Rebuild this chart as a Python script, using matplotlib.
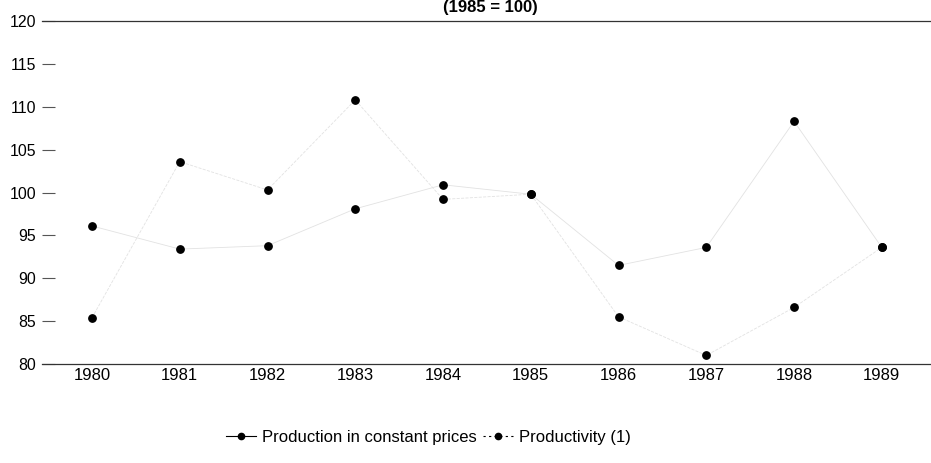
import matplotlib
matplotlib.use("Agg")
from matplotlib import pyplot as plt
from matplotlib.lines import Line2D

years = ["1980", "1981", "1982", "1983", "1984", "1985", "1986", "1987", "1988", "1989"]
production = [96.1, 93.4, 93.8, 98.1, 100.9, 99.8, 91.5, 93.6, 108.3, 93.6]
productivity = [85.4, 103.6, 100.3, 110.8, 99.2, 99.8, 85.5, 81.0, 86.6, 93.6]
yticks = [80, 85, 90, 95, 100, 105, 110, 115, 120]

plt.rcParams["font.family"] = ["Liberation Sans", "DejaVu Sans"]

fig = plt.figure(figsize=(9.31, 4.63), dpi=100)
ax = fig.add_axes([0.0451, 0.2138, 0.9539, 0.7408])

x = range(len(years))

# lines are barely visible in the scan
ax.plot(x, production, color="#e2e2e2", lw=0.6, zorder=1)
ax.plot(x, productivity, color="#e2e2e2", lw=0.6, ls="--", zorder=1)
ax.scatter(x, production, s=28, color="black", zorder=3)
ax.scatter(x, productivity, s=28, color="black", zorder=3)

ax.set_xlim(-0.57, 9.55)
ax.set_ylim(80, 120)
ax.set_xticks(list(x))
ax.set_xticklabels(years, fontsize=12)
ax.set_yticks(yticks)
ax.set_yticklabels([str(v) for v in yticks], fontsize=11.4)

ax.tick_params(axis="x", length=0, pad=3)
ax.tick_params(axis="y", direction="in", length=9.5, width=0.8,
               color="#555555", pad=4.3)

for side in ["left", "right"]:
    ax.spines[side].set_visible(False)
for side in ["top", "bottom"]:
    ax.spines[side].set_linewidth(0.9)
    ax.spines[side].set_color("#333333")

# title sits at the very top edge
fig.text(0.527, 0.999, "(1985 = 100)", ha="center", va="top",
         fontsize=12, fontweight="bold")

handles = [
    Line2D([], [], color="black", lw=0.8, marker="o", markersize=4.5),
    Line2D([], [], color="black", lw=0.8, ls=(0, (2, 3)), marker="o", markersize=4.5),
]
fig.legend(handles, ["Production in constant prices", "Productivity (1)"],
           loc="center", bbox_to_anchor=(0.46, 0.056), ncol=2,
           frameon=False, fontsize=12, handlelength=1.8,
           handletextpad=0.35, columnspacing=0.4)

fig.savefig("out.png", dpi=100)
